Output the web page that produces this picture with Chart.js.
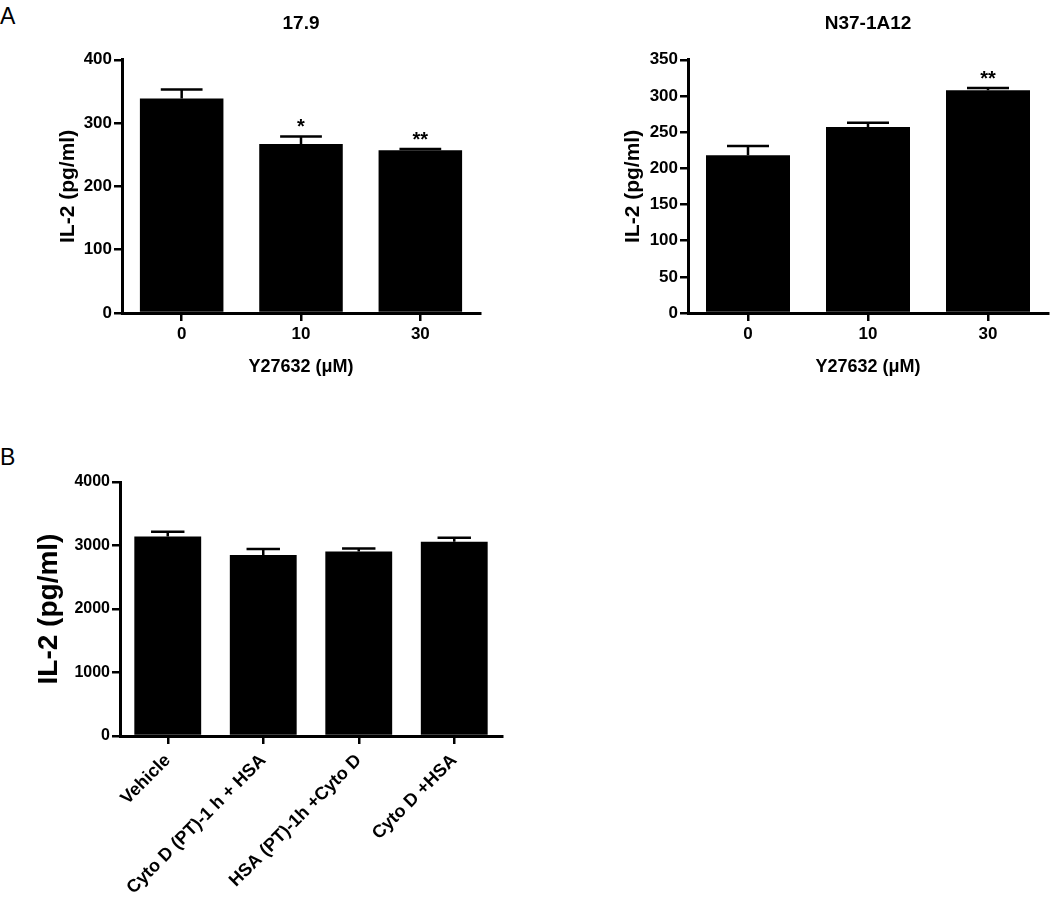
<!DOCTYPE html>
<html>
<head>
<meta charset="utf-8">
<script src="https://cdn.jsdelivr.net/npm/chart.js@4.4.1/dist/chart.umd.min.js"></script>
<style>
  body { margin: 0; background: #fff; width: 1050px; height: 905px; position: relative; overflow: hidden; font-family: "Liberation Sans", Arial, sans-serif; }
  .panel { position: absolute; }
  .letter { position: absolute; font-size: 23px; color: #000; }
</style>
</head>
<body>
<div class="letter" style="left:0px;top:3px;">A</div>
<div class="letter" style="left:0px;top:444px;">B</div>
<canvas id="c179" class="panel" width="490" height="390" style="left:0px;top:0px;"></canvas>
<canvas id="cN37" class="panel" width="490" height="390" style="left:560px;top:0px;"></canvas>
<canvas id="cB" class="panel" width="520" height="465" style="left:0px;top:440px;"></canvas>
<script>
// panel A, left: clone 17.9
const doseLabels = ['0', '10', '30'];
const il2Clone179 = [339, 267, 257];
const semClone179 = [14, 12, 2];
const starsClone179 = ['', '*', '**'];

// panel A, right: N37-1A12
const il2N37 = [218, 257, 308];
const semN37 = [13, 6, 3];
const starsN37 = ['', '', '**'];

// panel B
const treatLabels = ['Vehicle', 'Cyto D (PT)-1 h + HSA', 'HSA (PT)-1h +Cyto D', 'Cyto D +HSA'];
const il2Treat = [3142, 2849, 2906, 3059];
const semTreat = [74, 94, 47, 63];

const FONT = '"Liberation Sans", Arial, sans-serif';
Chart.defaults.font.family = FONT;
Chart.defaults.color = '#000';

// draws the upper SEM whisker + cap and the significance stars
const errBars = {
  id: 'errBars',
  afterDatasetsDraw(chart, args, opts) {
    const ctx = chart.ctx;
    const y = chart.scales.y;
    const meta = chart.getDatasetMeta(0);
    const vals = chart.data.datasets[0].data;
    ctx.save();
    ctx.strokeStyle = '#000';
    ctx.lineWidth = 2.5;
    meta.data.forEach((bar, i) => {
      const top = y.getPixelForValue(vals[i] + opts.err[i]);
      const half = bar.width * 0.25;
      ctx.beginPath();
      ctx.moveTo(bar.x, bar.y);
      ctx.lineTo(bar.x, top);
      ctx.moveTo(bar.x - half, top);
      ctx.lineTo(bar.x + half, top);
      ctx.stroke();
      const s = opts.stars ? opts.stars[i] : '';
      if (s) {
        ctx.fillStyle = '#000';
        ctx.font = 'bold 20px ' + FONT;
        ctx.textAlign = 'center';
        ctx.textBaseline = 'alphabetic';
        ctx.fillText(s, bar.x, top - 3);
      }
    });
    ctx.restore();
  }
};

function axisGrid() {
  return { display: true, drawOnChartArea: false, drawTicks: true, tickLength: 8, color: '#000', lineWidth: 2.5, offset: false };
}

function makeChart(id, cfg) {
  return new Chart(document.getElementById(id), {
    type: 'bar',
    data: {
      labels: cfg.labels,
      datasets: [{ data: cfg.values, backgroundColor: '#000', borderWidth: 0, barPercentage: cfg.barPct, categoryPercentage: 1 }]
    },
    options: {
      responsive: false,
      animation: false,
      devicePixelRatio: 1,
      layout: { padding: cfg.padding },
      plugins: {
        legend: { display: false },
        tooltip: { enabled: false },
        title: cfg.title ? {
          display: true, text: cfg.title, fullSize: false, color: '#000',
          font: { size: 19, weight: 'bold' }, padding: { top: 12, bottom: 25 }
        } : { display: false },
        errBars: { err: cfg.err, stars: cfg.stars }
      },
      scales: {
        x: {
          offset: true,
          grid: axisGrid(),
          border: { display: true, color: '#000', width: 3 },
          ticks: { color: '#000', font: { size: cfg.xTickSize, weight: 'bold' }, padding: cfg.xTickPad,
                   maxRotation: cfg.rot, minRotation: cfg.rot, autoSkip: false },
          title: cfg.xTitle ? { display: true, text: cfg.xTitle, color: '#000', font: { size: 18, weight: 'bold' }, padding: { top: 0, bottom: 12 } } : { display: false },
          afterFit: s => { s.height = cfg.xHeight; }
        },
        y: {
          min: 0, max: cfg.yMax,
          grid: axisGrid(),
          border: { display: true, color: '#000', width: 3 },
          ticks: { stepSize: cfg.yStep, color: '#000', font: { size: cfg.yTickSize, weight: 'bold' }, padding: 2,
                   callback: v => String(v) },
          title: { display: true, text: 'IL-2 (pg/ml)', color: '#000', font: { size: cfg.yTitleSize, weight: 'bold' }, padding: { top: cfg.yTitlePad, bottom: 0 } },
          afterFit: s => { s.width = cfg.yWidth; }
        }
      }
    },
    plugins: [errBars]
  });
}

makeChart('c179', {
  labels: doseLabels, values: il2Clone179, err: semClone179, stars: starsClone179,
  title: '17.9', xTitle: 'Y27632 (\u03bcM)', yMax: 400, yStep: 100,
  barPct: 0.7, padding: { left: 0, right: 10, top: 0, bottom: 0 },
  yWidth: 122, yTitlePad: 56, yTitleSize: 21, yTickSize: 17,
  xHeight: 77, xTickSize: 17, xTickPad: 3, rot: 0
});

makeChart('cN37', {
  labels: doseLabels, values: il2N37, err: semN37, stars: starsN37,
  title: 'N37-1A12', xTitle: 'Y27632 (\u03bcM)', yMax: 350, yStep: 50,
  barPct: 0.7, padding: { left: 0, right: 2, top: 0, bottom: 0 },
  yWidth: 128, yTitlePad: 61, yTitleSize: 21, yTickSize: 17,
  xHeight: 77, xTickSize: 17, xTickPad: 3, rot: 0
});

makeChart('cB', {
  labels: treatLabels, values: il2Treat, err: semTreat, stars: null,
  title: null, xTitle: null, yMax: 4000, yStep: 1000,
  barPct: 0.7, padding: { left: 0, right: 18, top: 42, bottom: 0 },
  yWidth: 120, yTitlePad: 32, yTitleSize: 28, yTickSize: 16,
  xHeight: 169, xTickSize: 18, xTickPad: 6, rot: 45
});
</script>
</body>
</html>
